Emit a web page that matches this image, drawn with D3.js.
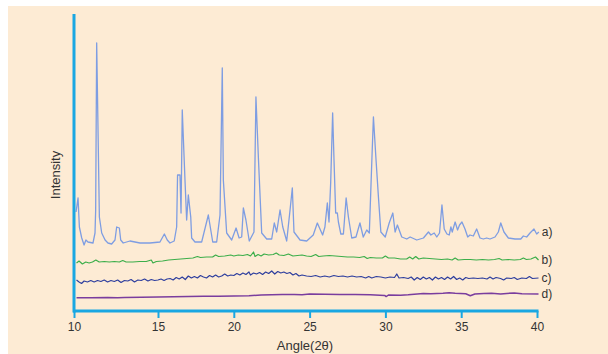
<!DOCTYPE html>
<html><head><meta charset="utf-8">
<script src="https://cdn.jsdelivr.net/npm/d3@7"></script>
<style>html,body{margin:0;padding:0;background:#fff;}svg{display:block;}</style>
</head><body>
<svg id="chart" width="608" height="354"></svg>
<script>
// X tick labels (degrees 2θ)
const xTicks = [10, 15, 20, 25, 30, 35, 40];
const seriesLabels = ["a)", "b)", "c)", "d)"];
// series a) : [angle 2θ, intensity]
const seriesA = [[10.12,98],[10.24,112],[10.32,83],[10.46,72],[10.60,65],[10.71,70],[10.83,68],[11.13,67],[11.25,77],[11.29,100],[11.35,267],[11.51,93],[11.65,77],[11.85,70],[12.02,67],[12.24,66],[12.44,70],[12.54,83],[12.70,82],[12.78,70],[12.93,67],[13.33,69],[13.93,67],[14.52,67],[15.13,68],[15.42,76],[15.61,70],[15.79,67],[16.07,69],[16.23,83],[16.29,135],[16.45,135],[16.52,97],[16.60,200],[16.78,130],[16.89,90],[17.00,115],[17.16,93],[17.22,72],[17.44,68],[17.88,68],[18.32,95],[18.61,68],[18.87,68],[19.09,95],[19.24,242],[19.31,130],[19.53,77],[19.86,70],[20.15,82],[20.35,72],[20.52,73],[20.63,102],[20.80,90],[21.02,69],[21.33,78],[21.46,213],[21.62,153],[21.84,77],[22.17,71],[22.50,71],[22.67,87],[22.83,78],[23.05,100],[23.23,83],[23.49,69],[23.71,100],[23.86,122],[23.97,78],[24.37,70],[24.81,69],[25.24,75],[25.51,87],[25.86,75],[26.01,83],[26.17,107],[26.28,88],[26.39,127],[26.52,197],[26.61,150],[26.72,97],[26.83,97],[26.90,88],[27.06,76],[27.23,76],[27.41,112],[27.56,93],[27.78,72],[28.06,73],[28.32,87],[28.54,73],[28.77,80],[28.94,77],[29.10,147],[29.21,193],[29.37,153],[29.54,113],[29.70,78],[29.99,73],[30.25,87],[30.49,97],[30.64,78],[30.79,85],[31.08,73],[31.41,71],[31.63,73],[32.07,70],[32.51,72],[32.84,78],[33.00,75],[33.22,77],[33.39,73],[33.57,77],[33.73,105],[33.88,81],[34.06,76],[34.21,75],[34.32,83],[34.41,78],[34.60,88],[34.76,80],[34.89,85],[35.05,88],[35.25,81],[35.43,73],[35.58,75],[35.80,74],[36.02,81],[36.24,72],[36.46,71],[36.68,72],[36.90,71],[37.23,73],[37.45,78],[37.61,87],[37.82,78],[38.11,72],[38.55,71],[38.93,71],[39.10,74],[39.32,73],[39.54,77],[39.80,81],[39.98,76],[40.12,78]];
// series b)
const seriesB = [[10.15,47],[10.3,49],[10.5,46],[10.7,48],[10.9,47],[11.1,48],[11.3,50],[11.5,48],[11.8,48.5],[12.1,48],[12.4,48.5],[12.7,48],[12.9,49.5],[13.1,48],[13.5,48],[13.9,48.5],[14.3,48.5],[14.6,50],[14.7,47],[14.9,48.5],[15.3,49],[15.7,50],[16.1,50.5],[16.5,51],[16.9,51.5],[17.3,52],[17.6,53.5],[17.8,52.5],[18.2,53],[18.6,53],[18.8,55],[19.0,53.5],[19.4,54],[19.8,55],[20.0,54],[20.3,55],[20.6,54.5],[20.9,55.5],[21.1,54],[21.3,58],[21.4,53.5],[21.6,55.5],[21.8,54],[22.0,56],[22.3,55],[22.6,55.5],[22.8,57],[23.0,55],[23.3,54.5],[23.6,56],[23.9,54],[24.2,54.5],[24.5,55],[24.8,54],[25.1,53.5],[25.4,55.5],[25.6,53.5],[25.9,54],[26.3,54.5],[26.7,54],[27.1,53.5],[27.5,53],[27.9,53],[28.3,52.5],[28.6,53.5],[28.8,51.5],[29.0,52.5],[29.4,52],[29.8,52],[30.0,54],[30.2,52],[30.6,52],[31.0,51],[31.4,51],[31.6,53],[31.8,51],[32.0,53.5],[32.2,51],[32.5,52],[32.9,51.5],[33.3,51],[33.7,50.5],[34.1,51],[34.4,50],[34.6,52],[34.8,50],[35.2,50.5],[35.6,50.5],[36.0,50],[36.4,50.5],[36.8,50],[37.2,50.5],[37.5,51.5],[37.7,50],[38.1,50.5],[38.5,50],[38.9,50.5],[39.1,52],[39.3,50.5],[39.6,51],[39.9,53],[40.1,50]];
// series c)
const seriesC = [[10.15,30],[10.3,28],[10.45,26.5],[10.6,29],[10.8,28],[11.0,29.5],[11.2,28],[11.4,29.5],[11.6,28.5],[11.8,30],[12.0,28],[12.2,29.5],[12.4,28.5],[12.6,30],[12.8,27.5],[13.0,29.5],[13.2,29],[13.4,30.5],[13.6,28],[13.8,30],[14.0,29.5],[14.2,31],[14.4,29],[14.6,30.5],[14.8,29.5],[15.0,30],[15.2,31],[15.4,29.5],[15.6,31],[15.8,31.5],[16.0,30],[16.2,32.5],[16.4,31],[16.6,33],[16.8,30.5],[17.0,34],[17.2,32],[17.4,33.5],[17.6,32],[17.8,34.5],[18.0,33],[18.2,32],[18.4,34.5],[18.6,33],[18.8,35],[19.0,33],[19.2,34],[19.4,36],[19.6,34],[19.8,35],[20.0,34.5],[20.2,36.5],[20.4,35],[20.6,37],[20.8,35.5],[21.0,38],[21.1,35],[21.3,37],[21.5,36],[21.7,37.5],[21.9,35.5],[22.1,38],[22.3,36.5],[22.5,39],[22.7,36],[22.9,38.5],[23.1,37],[23.3,38],[23.5,36.5],[23.7,37.5],[23.9,35],[24.1,36.5],[24.3,34],[24.5,35],[24.8,34],[25.1,33.5],[25.4,34.5],[25.7,33],[26.0,34],[26.3,33],[26.6,34.5],[26.9,33.5],[27.2,34],[27.5,33],[27.8,34],[28.1,33],[28.4,33.5],[28.7,32],[28.9,33.5],[29.1,32],[29.4,33.5],[29.7,33],[30.0,32],[30.3,33],[30.6,32.5],[30.75,36],[30.9,32],[31.2,32.5],[31.5,31.5],[31.7,33],[31.9,30],[32.1,32.5],[32.3,30.5],[32.5,33],[32.7,31],[32.9,32.5],[33.1,30],[33.3,33],[33.5,31],[33.7,32.5],[33.9,30.5],[34.1,33],[34.3,31],[34.5,33.5],[34.7,30.5],[34.9,32],[35.1,30],[35.3,32.5],[35.5,31.5],[35.8,32],[36.1,31.5],[36.4,32],[36.7,31],[36.9,33],[37.1,31],[37.3,32.5],[37.6,31.5],[37.8,30],[38.0,32],[38.3,31.5],[38.5,32.5],[38.7,30.5],[39.0,32],[39.3,31.5],[39.5,33.5],[39.7,31.5],[40.1,32]];
// series d)
const seriesD = [[10.15,12.3],[11,12.3],[12,12.5],[12.6,12.2],[13,12.6],[14,12.8],[15,13],[16,13.3],[17,13.5],[18,13.7],[19,13.8],[20,14],[21,14.3],[21.8,15],[22.5,15.3],[23.2,15.4],[24,15.5],[24.5,15.3],[25,16],[26,15.8],[27,15.6],[28,15.5],[29,15.3],[29.95,14.6],[30.05,13.4],[30.2,15],[31,14.8],[31.5,15.2],[32.5,16.5],[33,16.2],[33.8,16.8],[34.2,17.3],[34.6,16.8],[35.3,16.2],[35.6,14.3],[35.9,16],[36.5,16.5],[37,16.8],[37.6,16],[38,16.6],[38.5,17],[39,16.2],[40.1,16]];

const svg = d3.select("#chart");
svg.append("rect").attr("x", 8).attr("y", 6).attr("width", 600).attr("height", 348).attr("fill", "#fdebd4");

const x = d3.scaleLinear().domain([10, 15, 40]).range([74, 158, 537]);
const y = d3.scaleLinear().domain([0, 296]).range([310, 14]);
const axisColor = "#1aa7e2";

const line = d3.line().x(d => x(d[0])).y(d => y(d[1]));
const series = [
  {data: seriesA, color: "#7e9de2", w: 1.3, label: seriesLabels[0]},
  {data: seriesB, color: "#3cae4a", w: 1.2, label: seriesLabels[1]},
  {data: seriesC, color: "#2f3f9e", w: 1.2, label: seriesLabels[2]},
  {data: seriesD, color: "#7a3d9e", w: 1.5, label: seriesLabels[3]}
];
series.forEach(s => {
  svg.append("path").datum(s.data).attr("d", line)
    .attr("fill", "none").attr("stroke", s.color).attr("stroke-width", s.w)
    .attr("stroke-linejoin", "round");
  const last = s.data[s.data.length - 1];
  svg.append("text").attr("x", x(last[0]) + 3).attr("y", y(last[1]) + 4)
    .attr("font-family", "Liberation Sans, Arial, sans-serif").attr("font-size", 12)
    .attr("fill", "#333").text(s.label);
});

// X axis
const xAxis = d3.axisBottom(x).tickValues(xTicks).tickSize(7).tickPadding(4).tickFormat(d3.format("d"));
const gx = svg.append("g").attr("transform", "translate(0,311)").call(xAxis);
gx.select(".domain").attr("stroke", axisColor).attr("stroke-width", 3).attr("d", "M73,0H538.5");
gx.selectAll(".tick line").attr("stroke", axisColor).attr("stroke-width", 2);
gx.selectAll(".tick text").attr("font-family", "Liberation Sans, Arial, sans-serif").attr("font-size", 12).attr("fill", "#333");

// Y axis (no ticks)
const yAxis = d3.axisLeft(y).tickValues([]).tickSizeOuter(0);
const gy = svg.append("g").attr("transform", "translate(74,0)").call(yAxis);
gy.select(".domain").attr("stroke", axisColor).attr("stroke-width", 3).attr("d", "M0,14V312.5");

svg.append("text").attr("x", 305).attr("y", 350).attr("text-anchor", "middle")
  .attr("font-family", "Liberation Sans, Arial, sans-serif").attr("font-size", 13).attr("fill", "#333").text("Angle(2θ)");
svg.append("text").attr("transform", "translate(60,175) rotate(-90)").attr("text-anchor", "middle")
  .attr("font-family", "Liberation Sans, Arial, sans-serif").attr("font-size", 13).attr("fill", "#333").text("Intensity");
</script>
</body></html>
